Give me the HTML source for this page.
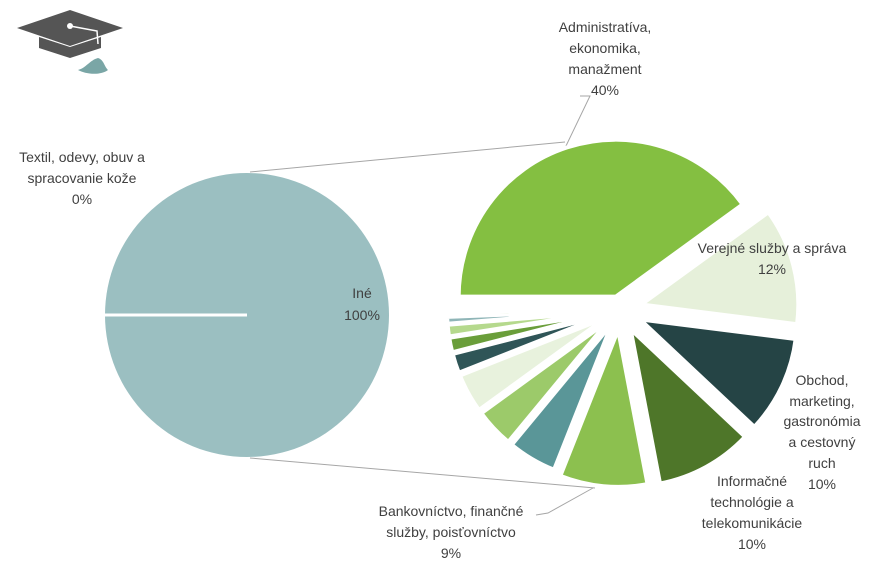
<!DOCTYPE html>
<html><head><meta charset="utf-8"><style>
body{margin:0;background:#fff;}
text{font-family:"Liberation Sans",sans-serif;font-size:14px;fill:#404040;}
</style></head><body>
<svg width="875" height="568" xmlns="http://www.w3.org/2000/svg">
<polygon points="17,28 70,10 123,28 70,46" fill="#555"/>
<polygon points="39,37 39,48 70,58 101,48 101,37 70,47" fill="#555"/>
<path d="M70,26 L97,31 L98,44" stroke="#fff" stroke-width="1.5" fill="none"/>
<circle cx="70" cy="26" r="3" fill="#fff"/>
<path d="M98,58 C90,60 86,68 78,70 C85,74 100,76 108,70 C104,66 104,60 98,58Z" fill="#7aa6a6"/>
<circle cx="247" cy="315" r="142" fill="#9bbfc1"/>
<line x1="105" y1="315" x2="247" y2="315" stroke="#fff" stroke-width="3"/>
<line x1="250" y1="172" x2="565" y2="142" stroke="#a6a6a6" stroke-width="1"/>
<line x1="250" y1="458" x2="595" y2="488" stroke="#a6a6a6" stroke-width="1"/>
<polyline points="580,96 590,96 565,148" fill="none" stroke="#a6a6a6"/>
<polyline points="536,515 548,513 593,488" fill="none" stroke="#a6a6a6"/>
<g id="rp"></g>
<text x="362" y="298" text-anchor="middle">Iné</text>
<text x="362" y="320" text-anchor="middle">100%</text>
<text x="82" y="162" text-anchor="middle">Textil, odevy, obuv a</text>
<text x="82" y="183" text-anchor="middle">spracovanie kože</text>
<text x="82" y="204" text-anchor="middle">0%</text>
<text x="605" y="32" text-anchor="middle">Administratíva,</text>
<text x="605" y="53" text-anchor="middle">ekonomika,</text>
<text x="605" y="74" text-anchor="middle">manažment</text>
<text x="605" y="95" text-anchor="middle">40%</text>
<text x="772" y="253" text-anchor="middle">Verejné služby a správa</text>
<text x="772" y="274" text-anchor="middle">12%</text>
<text x="822" y="385" text-anchor="middle">Obchod,</text>
<text x="822" y="406" text-anchor="middle">marketing,</text>
<text x="822" y="426" text-anchor="middle">gastronómia</text>
<text x="822" y="447" text-anchor="middle">a cestovný</text>
<text x="822" y="468" text-anchor="middle">ruch</text>
<text x="822" y="489" text-anchor="middle">10%</text>
<text x="752" y="486" text-anchor="middle">Informačné</text>
<text x="752" y="507" text-anchor="middle">technológie a</text>
<text x="752" y="528" text-anchor="middle">telekomunikácie</text>
<text x="752" y="549" text-anchor="middle">10%</text>
<text x="451" y="516" text-anchor="middle">Bankovníctvo, finančné</text>
<text x="451" y="537" text-anchor="middle">služby, poisťovníctvo</text>
<text x="451" y="558" text-anchor="middle">9%</text>
</svg>
<script>
var g=document.getElementById('rp');
var cx=620,cy=310,R=157;
var s=[[40,'#84bf41',14],[12,'#e6f0da',22],[10,'#254445',22],[10,'#4e7629',22],[9,'#8cc04f',20],
[5,'#5a9698',16],[4,'#9cca6a',16],[4,'#e8f2dd',16],[2,'#2f5557',16],[1.5,'#6a9e3a',16],[1.2,'#b5d98d',16],[0.7,'#8fb5b7',16],[0.4,'#c7e2a8',16],[0.2,'#2f5557',16]];
var a=180;
s.forEach(function(p){
 var sw=p[0]*3.6,a2=a+sw,m=(a+a2)/2*Math.PI/180;
 var ox=cx+p[2]*Math.cos(m),oy=cy+p[2]*Math.sin(m);
 var r1=a*Math.PI/180,r2=a2*Math.PI/180;
 var d='M'+ox+','+oy+' L'+(ox+R*Math.cos(r1))+','+(oy+R*Math.sin(r1))+' A'+R+','+R+' 0 '+(sw>180?1:0)+' 1 '+(ox+R*Math.cos(r2))+','+(oy+R*Math.sin(r2))+' Z';
 var e=document.createElementNS('http://www.w3.org/2000/svg','path');
 e.setAttribute('d',d);e.setAttribute('fill',p[1]);e.setAttribute('stroke','#fff');e.setAttribute('stroke-width','4');
 g.appendChild(e);a=a2;
});
</script>
</body></html>
